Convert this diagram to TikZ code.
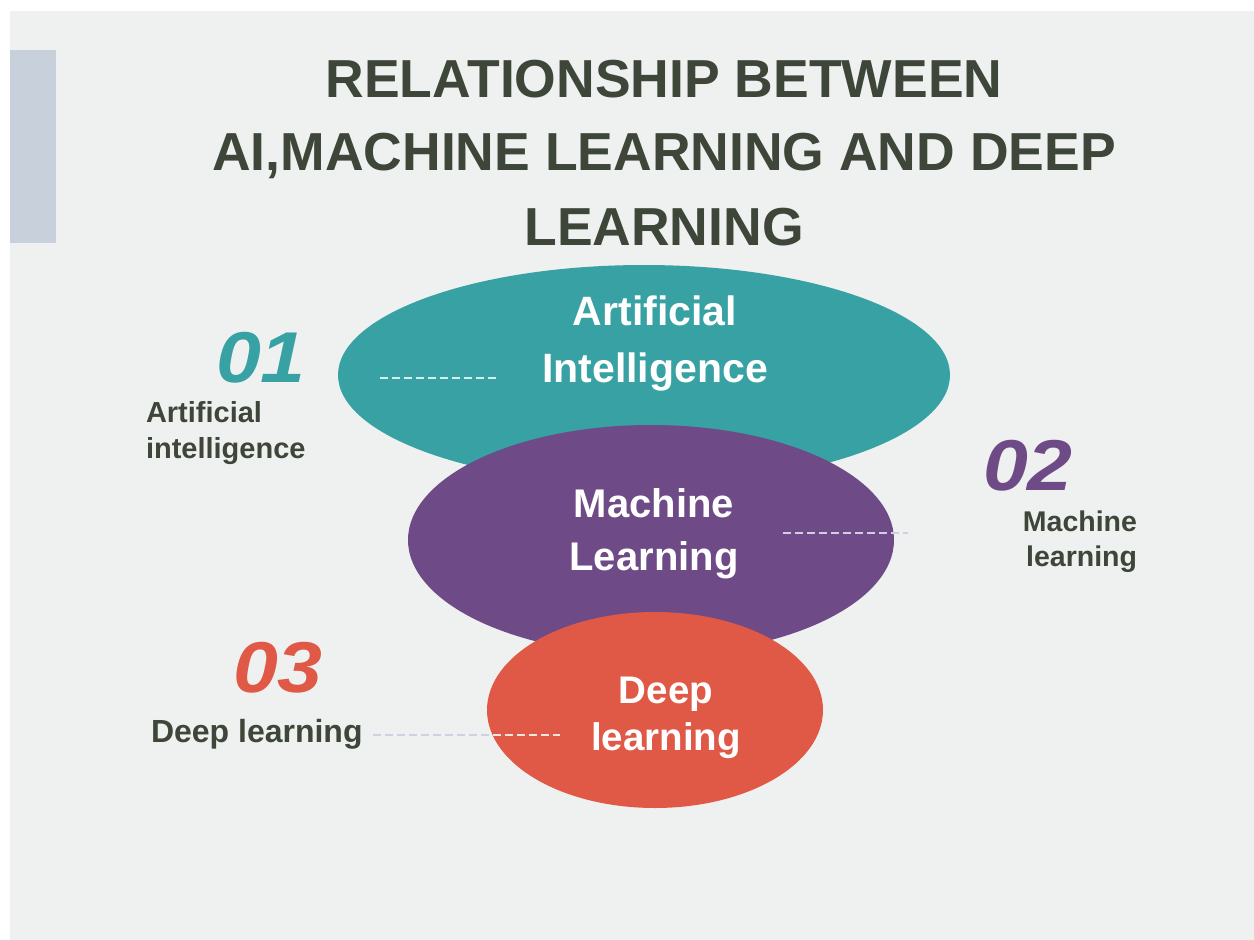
\documentclass[tikz,border=0pt]{standalone}
\usepackage{fontspec}
\setmainfont{Liberation Sans}
\usetikzlibrary{shapes.geometric}
\definecolor{bgpanel}{HTML}{EFF1F0}
\definecolor{barcol}{HTML}{C8D0DB}
\definecolor{inkcol}{HTML}{3D4639}
\definecolor{tealcol}{HTML}{37A1A4}
\definecolor{purpcol}{HTML}{6E4A86}
\definecolor{redcol}{HTML}{E05946}
\definecolor{dashlight}{HTML}{D8EEEE}
\definecolor{dashlav}{HTML}{D4CDE3}
\definecolor{dashgrey}{HTML}{CFD1E0}
\definecolor{dashpale}{HTML}{F4E6E4}
\tikzset{
  blob/.style={ellipse, inner sep=0pt, draw=none},
  txt/.style={anchor=base, inner sep=0pt, outer sep=0pt},
  titletxt/.style={txt, text=inkcol, font=\fontsize{53.5}{60}\selectfont\bfseries},
  inner/.style={txt, text=white, font=\fontsize{41}{48}\selectfont\bfseries},
  numtxt/.style={txt, font=\fontsize{72}{80}\selectfont\bfseries\itshape},
  labeltxt/.style={txt, text=inkcol, font=\fontsize{29}{34}\selectfont\bfseries},
  dashline/.style={line width=2pt, dash pattern=on 8pt off 4pt}
}
\newcommand{\widenum}[1]{\scalebox{1.12}[1]{#1}}
\begin{document}
\begin{tikzpicture}[x=1pt,y=-1pt]
\useasboundingbox (0,0) rectangle (1254,940);
\fill[white] (0,0) rectangle (1254,940);
\fill[bgpanel] (10,11) rectangle (1254,940);
\fill[barcol] (10,50) rectangle (56,243);

% title
\node[titletxt] (t1) at (664,97) {RELATIONSHIP BETWEEN};
\node[titletxt] (t2) at (664,170) {AI,MACHINE LEARNING AND DEEP};
\node[titletxt] (t3) at (664,245) {LEARNING};

% ellipses
\node[blob, fill=tealcol, minimum width=612pt, minimum height=220pt] (ai) at (644,375) {};
\coordinate (aiL) at (380,378);
\coordinate (aiR) at (497,378);
\draw[dashline, draw=dashlight] (aiL) -- (aiR);
\node[inner] (ai1) at (655,325) {Artificial};
\node[inner] (ai2) at (655,382) {Intelligence};

\node[blob, fill=purpcol, minimum width=486pt, minimum height=230pt] (ml) at (651,540) {};
\node[inner, font=\fontsize{40}{48}\selectfont\bfseries] (ml1) at (654,517) {Machine};
\node[inner, font=\fontsize{40}{48}\selectfont\bfseries] (ml2) at (654,570) {Learning};

\node[blob, fill=redcol, minimum width=336pt, minimum height=196pt] (dl) at (655,710) {};
\node[inner, font=\fontsize{38.5}{46}\selectfont\bfseries] (dl1) at (666,703) {Deep};
\node[inner, font=\fontsize{38.5}{46}\selectfont\bfseries] (dl2) at (666,750) {learning};

% numbers and labels
\node[numtxt, text=tealcol] (n1) at (261,382) {\widenum{01}};
\node[labeltxt, anchor=base west] (l1a) at (146,422) {Artificial};
\node[labeltxt, anchor=base west] (l1b) at (146,458) {intelligence};

\node[numtxt, text=purpcol] (n2) at (1028,490) {\widenum{02}};
\node[labeltxt, font=\fontsize{28.5}{34}\selectfont\bfseries, anchor=base east] (l2a) at (1137,531) {Machine};
\node[labeltxt, font=\fontsize{28.5}{34}\selectfont\bfseries, anchor=base east] (l2b) at (1137,566) {learning};
\coordinate (mlL) at (783,533);
\coordinate (mlR) at (908,533);
\draw[dashline, draw=dashlav] (mlL) -- (mlR);

\node[numtxt, text=redcol] (n3) at (278,692) {\widenum{03}};
\node[labeltxt, font=\fontsize{32}{38}\selectfont\bfseries, anchor=base west] (l3) at (151,742) {Deep learning};
\coordinate (dlR) at (560,735);
\coordinate (dlL) at (373,735);
\draw[dashline, draw=dashgrey] (dlL) -- (dlR);
\begin{scope}
  \clip (dl.center) ellipse [x radius=168, y radius=98];
  \draw[dashline, draw=dashpale] (dlL) -- (dlR);
\end{scope}
\end{tikzpicture}
\end{document}
